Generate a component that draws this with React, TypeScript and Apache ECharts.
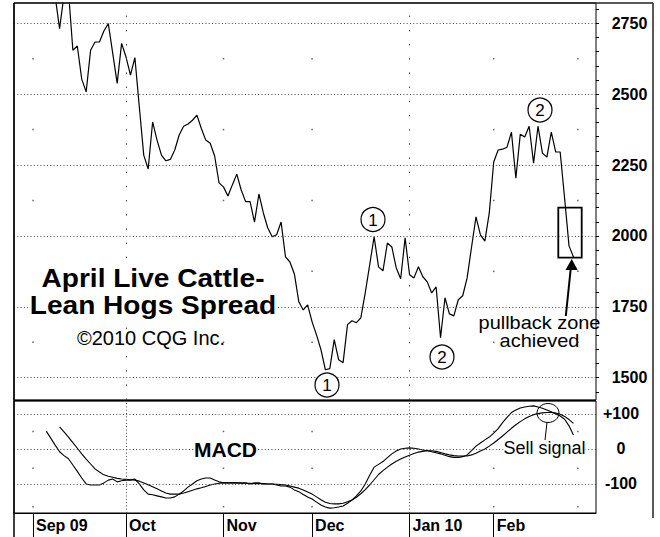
import React, { useEffect, useRef } from 'react';
import * as echarts from 'echarts';

// ---- data (trading-day index: 0 = first trading day of Sep 2009) ----
const FIRST_PRICE_DAY = 3;
const priceValues = [
  2890, 2870, 2845, 2731, 2850, 2865, 2655, 2670, 2553, 2508,
  2655, 2684, 2684, 2723, 2749, 2644, 2538, 2679, 2631, 2567,
  2629, 2455, 2285, 2236, 2402, 2338, 2285, 2265, 2270, 2303,
  2356, 2387, 2395, 2408, 2426, 2379, 2338, 2327, 2282, 2187,
  2173, 2141, 2180, 2218, 2162, 2121, 2121, 2049, 2148, 2081,
  2028, 1997, 2004, 2049, 1926, 1908, 1866, 1768, 1739, 1757,
  1697, 1651, 1599, 1528, 1532, 1634, 1563, 1553, 1687, 1701,
  1694, 1711, 1799, 1898, 1997, 1891, 1877, 1975, 1961, 1887,
  1849, 1993, 1863, 1852, 1891, 1856, 1838, 1799, 1820, 1641,
  1782, 1725, 1718, 1775, 1789, 1852, 1961, 2067, 2004, 1982,
  2081, 2261, 2303, 2306, 2313, 2366, 2204, 2359, 2349, 2387,
  2257, 2387, 2292, 2278, 2366, 2296, 2296, 2134, 1965, 1926,
];

const FIRST_FAST_DAY = 3;
const macdFast = [
  51, 31, 11, -8, -19, -28, -46, -64, -83, -100,
  -103, -103, -103, -97, -89, -86, -94, -91, -89, -89,
  -86, -100, -117, -129, -131, -134, -137, -140, -140, -137,
  -129, -120, -109, -100, -91, -86, -83, -83, -89, -94,
  -97, -97, -97, -97, -97, -97, -100, -97, -97, -100,
  -100, -100, -103, -106, -106, -109, -117, -122, -130, -137,
  -143, -152, -160, -166, -169, -168, -166, -163, -155, -146,
  -134, -120, -100, -75, -52, -44, -36, -25, -14, -6,
  0, 2, 3, 2, 0, -3, -5, -8, -11, -14,
  -18, -22, -24, -24, -22, -17, -5, 8, 17, 26,
  34, 45, 58, 75, 90, 104, 111, 117, 120, 122,
  123, 120, 116, 111, 106, 100, 94, 85, 66, 40,
];

const FIRST_SIGNAL_DAY = 6;
const macdSignal = [
  63, 49, 34, 18, 2, -14, -29, -43, -57, -66,
  -74, -78, -81, -84, -86, -87, -88, -89, -92, -97,
  -102, -108, -114, -120, -126, -129, -129, -129, -126, -122,
  -118, -114, -111, -107, -103, -100, -98, -97, -97, -97,
  -97, -98, -98, -98, -99, -99, -99, -100, -100, -101,
  -102, -103, -106, -109, -112, -117, -123, -129, -137, -145,
  -152, -156, -157, -157, -155, -151, -146, -138, -128, -116,
  -103, -88, -73, -62, -52, -43, -35, -29, -23, -18,
  -13, -9, -7, -5, -5, -7, -10, -14, -17, -19,
  -20, -20, -20, -17, -12, -6, 0, 8, 17, 27,
  37, 48, 59, 69, 78, 86, 93, 98, 101, 103,
  104, 104, 103, 99, 93, 84, 73,
];

const monthStartDays = [0, 21, 43, 63, 85, 104];
const monthLabels = ['Sep 09', 'Oct', 'Nov', 'Dec', 'Jan 10', 'Feb'];
const priceTicks = [1500, 1750, 2000, 2250, 2500, 2750];
const priceMinorTicks = [
  1450, 1500, 1550, 1600, 1650, 1700, 1750, 1800, 1850, 1900, 1950, 2000, 2050, 2100,
  2150, 2200, 2250, 2300, 2350, 2400, 2450, 2500, 2550, 2600, 2650, 2700, 2750, 2800,
];
const macdTicks = [-100, 0, 100];
const quarterDays = [21, 85];
const dotDays = [0, 43, 63, 104, 123];
const priceDotLevels = [1625, 1875, 2125, 2375, 2625];
const macdDotLevels = [50, -55, -165];

const X_MIN = -4.29;
const X_MAX = 127.09;
const FONT = '"Liberation Sans", Arial, Helvetica, sans-serif';

const toPairs = (first: number, arr: number[]) => arr.map((v, i) => [first + i, v]);

function buildOption() {
  const gridLine = { color: '#444', type: [1, 2.3] as number[], width: 1 };
  const txt = (
    x: number,
    y: number,
    text: string,
    size: number,
    bold: boolean,
    bg = true,
    lineHeight?: number,
    scaleX = 1,
  ) => ({
    type: 'text',
    x,
    y,
    scaleX,
    z: 100,
    style: {
      text,
      fontSize: size,
      fontWeight: bold ? 'bold' : 'normal',
      fontFamily: FONT,
      fill: '#000',
      align: 'center',
      verticalAlign: 'middle',
      lineHeight: lineHeight ?? size,
      backgroundColor: bg ? '#fff' : undefined,
    },
  });
  const numCircle = (cx: number, cy: number, label: string) => [
    { type: 'circle', z: 100, shape: { cx, cy, r: 12 }, style: { fill: '#fff', stroke: '#000', lineWidth: 1.2 } },
    txt(cx, cy + 0.5, label, 17, false, false),
  ];

  return {
    animation: false,
    backgroundColor: '#fff',
    grid: [
      { left: 14, top: 3, width: 582, height: 397, show: true, borderColor: '#000', borderWidth: 1 },
      { left: 14, top: 401, width: 582, height: 112, show: true, borderColor: '#000', borderWidth: 1 },
    ],
    xAxis: [
      { type: 'value', gridIndex: 0, min: X_MIN, max: X_MAX, show: false },
      {
        type: 'value',
        gridIndex: 1,
        position: 'bottom',
        min: X_MIN,
        max: X_MAX,
        axisLine: { show: true, onZero: false, lineStyle: { color: '#000' } },
        axisTick: { show: true, customValues: monthStartDays, length: 24, lineStyle: { color: '#000', width: 1 } },
        axisLabel: {
          customValues: monthStartDays,
          formatter: (v: number) => {
            const i = monthStartDays.indexOf(Math.round(v));
            return i >= 0 ? monthLabels[i] : '';
          },
          align: 'left',
          padding: [0, 0, 0, 3],
          margin: 4,
          fontFamily: FONT,
          fontWeight: 'bold',
          fontSize: 16,
          color: '#000',
        },
        splitLine: { show: false },
      },
    ],
    yAxis: [
      {
        type: 'value',
        gridIndex: 0,
        position: 'right',
        min: 1421.3,
        max: 2821.6,
        axisLine: { show: false, onZero: false },
        axisTick: { show: true, customValues: priceMinorTicks, length: 3, lineStyle: { color: '#000' } },
        axisLabel: {
          customValues: priceTicks,
          formatter: (v: number) => String(v),
          align: 'center',
          margin: 33.5,
          fontFamily: FONT,
          fontWeight: 'bold',
          fontSize: 16,
          color: '#000',
        },
        splitLine: { show: false },
      },
      {
        type: 'value',
        gridIndex: 1,
        position: 'right',
        min: -183,
        max: 137,
        axisLine: { show: false, onZero: false },
        axisTick: { show: false },
        axisLabel: {
          customValues: macdTicks,
          formatter: (v: number) => (v > 0 ? '+' + v : String(v)),
          align: 'center',
          margin: 25,
          fontFamily: FONT,
          fontWeight: 'bold',
          fontSize: 16,
          color: '#000',
        },
        splitLine: { show: false },
      },
    ],
    series: [
      {
        type: 'scatter',
        name: 'priceGridDots',
        xAxisIndex: 0,
        yAxisIndex: 0,
        z: 1,
        silent: true,
        symbol: 'rect',
        symbolSize: 1.5,
        itemStyle: { color: '#444' },
        data: dotDays.flatMap((d) => priceDotLevels.map((l) => [d, l])),
        markLine: {
          silent: true,
          symbol: ['none', 'none'],
          label: { show: false },
          lineStyle: gridLine,
          data: [
            ...priceTicks.map((v) => ({ yAxis: v })),
            ...quarterDays.map((d) => ({ xAxis: d, lineStyle: { color: '#444', type: [1.5, 12.68], width: 1 } })),
          ],
        },
      },
      {
        type: 'scatter',
        name: 'macdGridDots',
        xAxisIndex: 1,
        yAxisIndex: 1,
        z: 1,
        silent: true,
        symbol: 'rect',
        symbolSize: 1.5,
        itemStyle: { color: '#444' },
        data: dotDays.flatMap((d) => macdDotLevels.map((l) => [d, l])),
        markLine: {
          silent: true,
          symbol: ['none', 'none'],
          label: { show: false },
          lineStyle: gridLine,
          data: [...macdTicks.map((v) => ({ yAxis: v })), ...quarterDays.map((d) => ({ xAxis: d }))],
        },
      },
      {
        type: 'line',
        name: 'Spread',
        xAxisIndex: 0,
        yAxisIndex: 0,
        z: 3,
        symbol: 'none',
        clip: true,
        lineStyle: { color: '#000', width: 1.2 },
        data: toPairs(FIRST_PRICE_DAY, priceValues),
      },
      {
        type: 'line',
        name: 'MACD',
        xAxisIndex: 1,
        yAxisIndex: 1,
        z: 3,
        symbol: 'none',
        lineStyle: { color: '#000', width: 1.1 },
        data: toPairs(FIRST_FAST_DAY, macdFast),
      },
      {
        type: 'line',
        name: 'Signal',
        xAxisIndex: 1,
        yAxisIndex: 1,
        z: 3,
        symbol: 'none',
        lineStyle: { color: '#000', width: 1.1 },
        data: toPairs(FIRST_SIGNAL_DAY, macdSignal),
      },
    ],
    graphic: [
      { type: 'line', z: 100, shape: { x1: 14, y1: 3, x2: 653, y2: 3 }, style: { stroke: '#222', lineWidth: 1.5 } },
      { type: 'line', z: 100, shape: { x1: 653, y1: 3, x2: 653, y2: 518 }, style: { stroke: '#222', lineWidth: 1.5 } },
      { type: 'line', z: 100, shape: { x1: 14, y1: 3, x2: 14, y2: 537 }, style: { stroke: '#000', lineWidth: 1.5 } },
      { type: 'line', z: 100, shape: { x1: 14, y1: 400.5, x2: 596, y2: 400.5 }, style: { stroke: '#000', lineWidth: 1.5 } },
      txt(153, 292, 'April Live Cattle-\nLean Hogs Spread', 26, true, true, 26.5, 1.08),
      txt(151, 337.5, '\u00a92010 CQG Inc.', 20, false, false),
      txt(225.5, 449.5, 'MACD', 21, true),
      txt(544.5, 448, 'Sell signal', 18, false),
      txt(539.5, 332, 'pullback zone\nachieved', 17.5, false, false, 17.5, 1.14),
      ...numCircle(373, 219.5, '1'),
      ...numCircle(327, 385, '1'),
      ...numCircle(442, 357, '2'),
      ...numCircle(540, 110, '2'),
      { type: 'rect', z: 100, shape: { x: 558.3, y: 207.7, width: 23.4, height: 50 }, style: { fill: 'none', stroke: '#000', lineWidth: 1.8 } },
      { type: 'line', z: 100, shape: { x1: 565.8, y1: 316, x2: 570.8, y2: 268 }, style: { stroke: '#000', lineWidth: 2 } },
      { type: 'polygon', z: 100, shape: { points: [[571.7, 259], [565.5, 270], [577.7, 270]] }, style: { fill: '#000' } },
      { type: 'ellipse', z: 100, shape: { cx: 548, cy: 413, rx: 11, ry: 9.5 }, style: { fill: 'none', stroke: '#000', lineWidth: 1 } },
      { type: 'line', z: 100, shape: { x1: 545, y1: 440, x2: 547, y2: 422.5 }, style: { stroke: '#000', lineWidth: 1 } },
    ],
  };
}

export default function App() {
  const ref = useRef<HTMLDivElement>(null);
  useEffect(() => {
    if (!ref.current) return;
    const chart = echarts.init(ref.current, null, { renderer: 'svg' });
    chart.setOption(buildOption() as any);
    return () => chart.dispose();
  }, []);
  return (
    <div
      ref={ref}
      style={{ position: 'fixed', left: 0, top: 0, width: 660, height: 537, background: '#fff' }}
    />
  );
}
